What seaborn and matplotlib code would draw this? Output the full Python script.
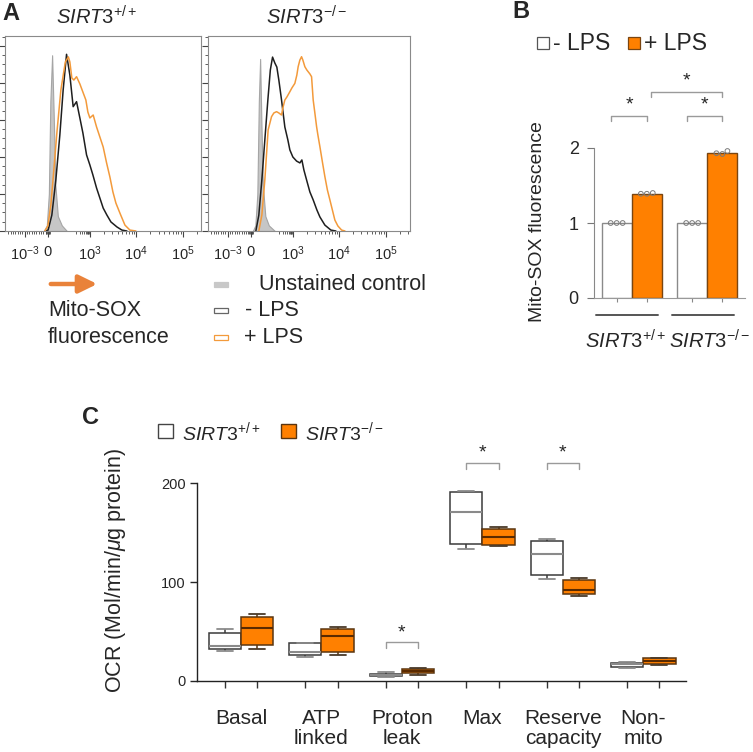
import numpy as np
import pandas as pd
import matplotlib
matplotlib.use('Agg')
import matplotlib.pyplot as plt
from matplotlib.patches import Rectangle, FancyArrowPatch
from matplotlib.ticker import MultipleLocator, FixedLocator
import seaborn as sns

# --- панель A: гистограммы Mito-SOX (ось x в «декадах» биэкспоненциальной шкалы)
gray_x_L = [-0.086, -0.022, 0.022, 0.054, 0.092, 0.129, 0.161, 0.215, 0.301, 0.409]
gray_y_L = [0, 3, 20, 70, 95, 60, 25, 8, 3, 0]
black_x_L = [-0.043, 0.006, 0.086, 0.172, 0.258, 0.329, 0.402, 0.473, 0.544, 0.617, 0.688, 0.753,
             0.832, 0.903, 0.968, 1.047, 1.118, 1.189, 1.269, 1.355, 1.484, 1.591, 1.699]
black_y_L = [0, 0.5, 8.6, 27.6, 51.9, 76.2, 95.5, 84.3, 67.2, 69.9, 61.1, 53.0,
             41.1, 35.7, 30.3, 23.2, 17.8, 12.4, 8.6, 4.9, 2.2, 0.5, 0]
orange_x_L = [-0.065, 0.0, 0.065, 0.129, 0.194, 0.280, 0.376, 0.441, 0.473, 0.516, 0.559, 0.617,
              0.688, 0.753, 0.817, 0.860, 0.903, 0.974, 1.047, 1.118, 1.189, 1.262, 1.333, 1.398,
              1.462, 1.548, 1.656, 1.763, 1.892]
orange_y_L = [0, 2.7, 14.1, 33.0, 53.0, 76.2, 91.4, 94.1, 91.4, 82.7, 81.6, 83.4,
              79.5, 75.1, 70.8, 64.3, 61.1, 62.7, 56.2, 50.8, 45.4, 36.8, 29.2, 21.1,
              15.1, 9.7, 3.2, 0.5, 0]

gray_x_R = [0.043, 0.097, 0.140, 0.172, 0.200, 0.226, 0.258, 0.312, 0.387, 0.516]
gray_y_R = [0, 3, 20, 70, 93, 60, 25, 8, 3, 0]
black_x_R = [0.108, 0.172, 0.237, 0.301, 0.366, 0.419, 0.467, 0.516, 0.559, 0.602, 0.660, 0.731,
             0.796, 0.839, 0.903, 0.983, 1.054, 1.097, 1.140, 1.198, 1.269, 1.340, 1.419, 1.484,
             1.591, 1.720, 1.828]
black_y_R = [0, 8.6, 27.6, 49.2, 70.8, 87.0, 94.0, 90.8, 88.6, 81.6, 70.8, 56.2,
             49.2, 43.8, 40.0, 37.8, 36.8, 38.4, 33.0, 27.6, 21.1, 16.8, 11.4, 7.6,
             3.2, 0.5, 0]
orange_x_R = [0.172, 0.237, 0.301, 0.372, 0.445, 0.495, 0.553, 0.602, 0.660, 0.688, 0.731, 0.774,
              0.839, 0.882, 0.946, 0.989, 1.017, 1.054, 1.090, 1.118, 1.161, 1.204, 1.232, 1.269,
              1.305, 1.340, 1.376, 1.413, 1.441, 1.484, 1.538, 1.591, 1.645, 1.699, 1.806, 1.871,
              1.951, 2.022]
orange_y_R = [0, 8.6, 27.6, 54.6, 61.8, 63.8, 64.5, 63.8, 62.7, 66.5, 70.8, 72.4,
              75.3, 77.3, 79.8, 84.3, 88.8, 92.4, 94.2, 92.4, 88.8, 87.0, 86.1, 84.9,
              83.4, 70.8, 63.8, 56.4, 51.9, 45.6, 37.3, 29.4, 22.2, 16.8, 5.9, 2.7,
              0.5, 0]

hist_ticks = [-0.5, 0, 0.9, 1.9, 2.9]
hist_ticklabels = ['10$^{-3}$', '0', '10$^{3}$', '10$^{4}$', '10$^{5}$']

# --- панель B: Mito-SOX (относительная флуоресценция)
genotypes = [r'$\mathit{SIRT3}^{+/+}$', r'$\mathit{SIRT3}^{-/-}$']
lps_levels = ['- LPS', '+ LPS']
b_wt_minus = [1.0, 1.0, 1.0]
b_wt_plus = [1.39, 1.40, 1.39]
b_ko_minus = [1.0, 1.0, 1.0]
b_ko_plus = [1.96, 1.92, 1.93]

# --- панель C: OCR, пять значений на бокс (min, Q1, медиана, Q3, max)
ocr_cats = ['Basal', 'ATP\nlinked', 'Proton\nleak', 'Max', 'Reserve\ncapacity', 'Non-\nmito']
ocr_wt = [[30.4, 32.0, 35.8, 49.0, 52.4],
          [24.7, 26.4, 29.0, 38.2, 38.9],
          [4.4, 5.1, 5.7, 6.8, 8.8],
          [133.8, 139.2, 171.6, 191.2, 191.9],
          [103.7, 107.1, 128.7, 141.9, 143.6],
          [13.2, 14.5, 16.9, 17.9, 19.6]]
ocr_ko = [[32.4, 36.1, 53.4, 64.5, 67.6],
          [26.4, 29.4, 45.3, 52.4, 54.4],
          [6.1, 7.8, 10.5, 12.2, 12.8],
          [136.8, 137.8, 145.6, 154.1, 155.7],
          [86.1, 87.8, 91.9, 102.7, 104.0],
          [16.2, 16.9, 20.3, 23.0, 23.6]]
ocr_sig_cats = [2, 3, 4]
ocr_sig_levels = [39, 221, 221]

ORANGE = '#FF8000'
LINE_OR = '#F39A3B'
W, H = 753, 752

sns.set_style('ticks')
plt.rcParams['font.family'] = ['Liberation Sans', 'DejaVu Sans']
plt.rcParams['mathtext.fontset'] = 'custom'
plt.rcParams['mathtext.rm'] = 'Liberation Sans'
plt.rcParams['mathtext.it'] = 'Liberation Sans:italic'

fig = plt.figure(figsize=(W / 100, H / 100), dpi=100)


def px_axes(x0, y0, x1, y1):
    return fig.add_axes([x0 / W, 1 - y1 / H, (x1 - x0) / W, (y1 - y0) / H])


def fx(x):
    return x / W


def fy(y):
    return 1 - y / H


# ================= A =================
minor_x = ([0.9 + np.log10(k) for k in range(2, 10)] + [1.9 + np.log10(k) for k in range(2, 10)]
           + [2.9 + np.log10(k) for k in range(2, 4)] + [0.9 * np.log10(k * 100) / 3 for k in range(1, 10)]
           + [-0.85, -0.8, -0.75, -0.7, -0.65, -0.6, -0.55, -0.45, -0.4, -0.35, -0.3, -0.25, -0.2,
              -0.15, -0.1, -0.05, -0.03, -0.015, 0.015, 0.03, 0.045])
panels = [
    ((5, 36, 201, 231), (-0.92, 3.29), gray_x_L, gray_y_L, black_x_L, black_y_L, orange_x_L, orange_y_L),
    ((208, 36, 410, 231), (-0.92, 3.42), gray_x_R, gray_y_R, black_x_R, black_y_R, orange_x_R, orange_y_R),
]
for box, xlim, gx, gy, bx, by, ox, oy in panels:
    ax = px_axes(*box)
    ax.fill_between(gx, gy, color='#c6c6c6', edgecolor='#a5a5a5', lw=0.8)
    sns.lineplot(x=bx, y=by, color='#1e1e1e', lw=1.1, sort=False, ax=ax)
    sns.lineplot(x=ox, y=oy, color=LINE_OR, lw=1.1, sort=False, ax=ax)
    ax.set_xlim(*xlim)
    ax.set_ylim(0, 105.4)
    ax.set_yticks([0, 20, 40, 60, 80, 100])
    ax.set_yticklabels([])
    ax.yaxis.set_minor_locator(MultipleLocator(5))
    ax.set_xticks(hist_ticks)
    ax.set_xticklabels(hist_ticklabels, fontsize=10.5)
    ax.xaxis.set_minor_locator(FixedLocator([m for m in minor_x if xlim[0] < m < xlim[1]]))
    ax.tick_params(which='major', length=4, width=0.8, color='#444', pad=6)
    ax.tick_params(which='minor', length=2.2, width=0.6, color='#444')
    for s in ax.spines.values():
        s.set_color('#8a8a8a')
        s.set_linewidth(0.8)

fig.text(fx(2), fy(14), 'A', fontsize=17, weight='bold', va='center')
fig.text(fx(97), fy(17), genotypes[0], fontsize=14.5, ha='center', va='center')
fig.text(fx(307), fy(17), genotypes[1], fontsize=14.5, ha='center', va='center')

fig.add_artist(FancyArrowPatch((fx(48), fy(284)), (fx(100), fy(284)), transform=fig.transFigure,
                               arrowstyle='-|>,head_length=0.55,head_width=0.27', mutation_scale=20,
                               lw=3.2, color='#E9823A'))
fig.text(fx(48), fy(311), 'Mito-SOX', fontsize=15.5, va='center')
fig.text(fx(48), fy(337), 'fluorescence', fontsize=15.5, va='center')
leg_a = [('#c8c8c8', '#c8c8c8', 'Unstained control', 259),
         ('white', '#666666', '- LPS', 245),
         ('white', LINE_OR, '+ LPS', 244)]
for i, (fc, ec, lab, tx) in enumerate(leg_a):
    yc = 284 + i * 26.5
    fig.add_artist(Rectangle((fx(214), fy(yc + 2.5)), 14 / W, 5 / H, transform=fig.transFigure,
                             facecolor=fc, edgecolor=ec, lw=0.9))
    fig.text(fx(tx), fy(yc), lab, fontsize=15.5, va='center')

# ================= B =================
dfb = pd.DataFrame({
    'geno': [genotypes[0]] * 6 + [genotypes[1]] * 6,
    'lps': ([lps_levels[0]] * 3 + [lps_levels[1]] * 3) * 2,
    'val': b_wt_minus + b_wt_plus + b_ko_minus + b_ko_plus,
})
axB = px_axes(594, 73, 745, 298)
sns.barplot(data=dfb, x='geno', y='val', hue='lps', order=genotypes, hue_order=lps_levels,
            palette=['white', ORANGE], saturation=1, errorbar=None, width=0.8, gap=0, legend=False,
            linewidth=1.0, ax=axB)
for p in axB.patches:
    p.set_edgecolor('#8a8a8a' if p.get_facecolor()[1] > 0.9 else '#7a4510')
n_before = len(axB.collections)
sns.swarmplot(data=dfb, x='geno', y='val', hue='lps', order=genotypes, hue_order=lps_levels,
              dodge=True, size=3.4, legend=False, ax=axB)
for c in axB.collections[n_before:]:
    c.set_facecolor('none')
    c.set_edgecolor('#7a7a7a')
    c.set_linewidth(0.7)
axB.set_xlim(-0.5, 1.5)
axB.set_ylim(0, 3.0)
axB.set_yticks([0, 1, 2])
axB.tick_params(axis='y', labelsize=13, length=5, width=0.8, color='#777', pad=6)
axB.set_xticks([-0.2, 0.2, 0.8, 1.2])
axB.set_xticklabels([])
axB.tick_params(axis='x', length=3, width=0.8, color='#888')
axB.set_xlabel('')
axB.set_ylabel('')
sns.despine(ax=axB)
axB.spines['left'].set_bounds(0, 2)
axB.spines['left'].set_color('#888')
axB.spines['bottom'].set_color('#999')
axB.spines['left'].set_linewidth(0.8)
axB.spines['bottom'].set_linewidth(0.8)

brackets_b = [(-0.27, 0.2, 2.43), (0.73, 1.2, 2.43), (0.26, 1.2, 2.75)]
for x0, x1, yb in brackets_b:
    axB.plot([x0, x0, x1, x1], [yb - 0.07, yb, yb, yb - 0.07], color='#9a9a9a', lw=1.0, clip_on=False)
    axB.text((x0 + x1) / 2, yb + 0.03, '*', ha='center', va='bottom', fontsize=14)
for i, g in enumerate(genotypes):
    axB.plot([i - 0.47, i + 0.35], [-0.23, -0.23], color='#555', lw=1.4, clip_on=False)
    fig.text(fx(626 + i * 84), fy(341), g, fontsize=14.5, ha='center', va='center')
fig.text(fx(538), fy(222), 'Mito-SOX fluorescence', fontsize=14, rotation=90, ha='center', va='center')
fig.text(fx(512), fy(11), 'B', fontsize=17, weight='bold', va='center')
for i, (fc, ec) in enumerate([('white', '#555'), (ORANGE, '#7a4510')]):
    x0 = 537 + i * 91
    fig.add_artist(Rectangle((fx(x0), fy(49)), 12 / W, 12 / H, transform=fig.transFigure,
                             facecolor=fc, edgecolor=ec, lw=0.9))
    fig.text(fx(x0 + 16), fy(43), lps_levels[i], fontsize=16.5, va='center')

# ================= C =================
rows = []
for ci, cat in enumerate(ocr_cats):
    for v in ocr_wt[ci]:
        rows.append((cat, genotypes[0], v))
    for v in ocr_ko[ci]:
        rows.append((cat, genotypes[1], v))
dfc = pd.DataFrame(rows, columns=['cat', 'geno', 'ocr'])

axC = px_axes(197, 439, 686, 681)
styles = [('white', '#3a3a3a', '#8a8a8a', '#8a8a8a'), (ORANGE, '#5a3510', '#5a2a00', '#4a3a2a')]
for g, (fc, lc, mc, cc) in zip(genotypes, styles):
    sns.boxplot(data=dfc[dfc['geno'] == g], x='cat', y='ocr', hue='geno', order=ocr_cats,
                hue_order=genotypes, palette=[fc, fc], saturation=1, whis=(0, 100), width=0.8, gap=0,
                dodge=True, linecolor=lc, linewidth=1.1, showfliers=False, legend=False,
                medianprops={'color': mc, 'linewidth': 1.5},
                capprops={'color': cc, 'linewidth': 1.3}, ax=axC)

axC.set_xlim(-0.547, 5.53)
axC.set_ylim(0, 245)
axC.set_yticks([0, 100, 200])
axC.tick_params(axis='y', labelsize=10.5, length=5, width=1.0, pad=3)
axC.set_xticks(range(len(ocr_cats)))
axC.set_xticklabels(ocr_cats, fontsize=15)
for t in axC.get_xticklabels():
    t.set_linespacing(1.05)
axC.tick_params(axis='x', which='major', length=0, pad=20)
axC.xaxis.set_minor_locator(FixedLocator([i + d for i in range(len(ocr_cats)) for d in (-0.2, 0.2)]))
axC.tick_params(axis='x', which='minor', length=5, width=1.0, color='#333')
axC.set_xlabel('')
axC.set_ylabel('')
sns.despine(ax=axC)
axC.spines['left'].set_bounds(0, 200)
for s in ('left', 'bottom'):
    axC.spines[s].set_color('#222')
    axC.spines[s].set_linewidth(1.0)

for ci, yb in zip(ocr_sig_cats, ocr_sig_levels):
    axC.plot([ci - 0.2, ci - 0.2, ci + 0.2, ci + 0.2], [yb - 6, yb, yb, yb - 6], color='#9a9a9a', lw=1.0,
             clip_on=False)
    axC.text(ci, yb + 1, '*', ha='center', va='bottom', fontsize=14)

fig.text(fx(115), fy(570), 'OCR (Mol/min/$\\mu$g protein)', fontsize=15.5, rotation=90,
         ha='center', va='center')
fig.text(fx(82), fy(417), 'C', fontsize=17, weight='bold', va='center')
for i, (fc, ec) in enumerate([('white', '#444'), (ORANGE, '#5a3510')]):
    x0 = 158 + i * 123
    fig.add_artist(Rectangle((fx(x0), fy(438)), 15 / W, 14 / H, transform=fig.transFigure,
                             facecolor=fc, edgecolor=ec, lw=1.0))
    fig.text(fx(x0 + 24), fy(432), genotypes[i], fontsize=14, va='center')

fig.savefig('out.png', dpi=100)
